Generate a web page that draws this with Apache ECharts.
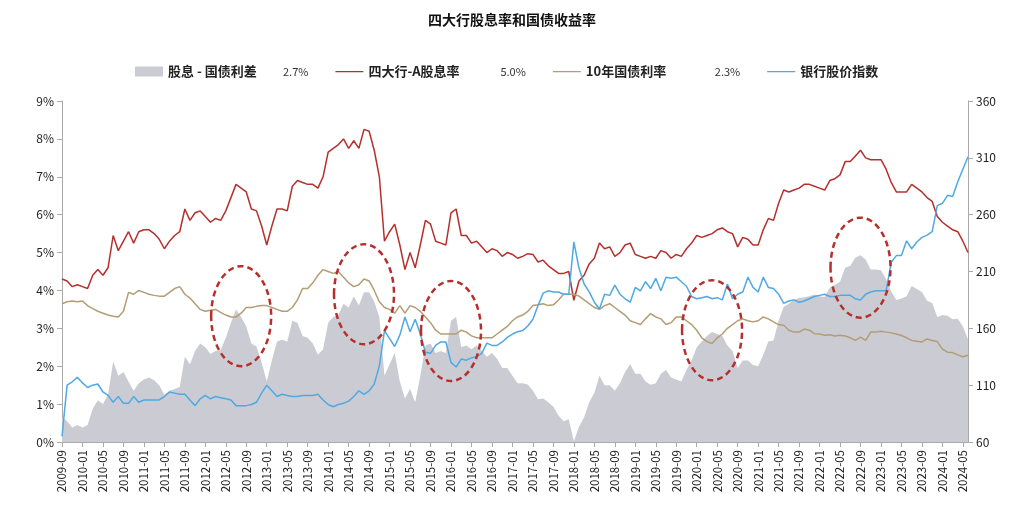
<!DOCTYPE html>
<html><head><meta charset="utf-8">
<script src="https://cdn.jsdelivr.net/npm/echarts@6/dist/echarts.min.js"></script>
<style>html,body{margin:0;padding:0;background:#fff}#c{width:1024px;height:511px}</style>
</head><body><div id="c"></div>
<script>
// monthly, 2009-09 .. 2024-06
const startYear = 2009, startMonth = 9, monthCount = 178;
const divYield = [4.30,4.25,4.10,4.15,
4.10,4.05,4.40,4.55,4.40,4.60,5.45,5.05,5.30,5.55,5.25,5.55,
5.60,5.60,5.50,5.35,5.10,5.30,5.45,5.55,6.15,5.85,6.05,6.10,
5.95,5.80,5.90,5.85,6.10,6.45,6.80,6.70,6.60,6.15,6.10,5.70,
5.20,5.70,6.15,6.15,6.10,6.75,6.90,6.85,6.80,6.80,6.70,7.00,
7.65,7.75,7.85,8.00,7.75,7.95,7.75,8.25,8.20,7.70,7.00,5.30,
5.55,5.75,5.20,4.55,5.00,4.60,5.20,5.85,5.75,5.30,5.25,5.20,
6.05,6.15,5.45,5.45,5.25,5.30,5.15,5.00,5.10,5.05,4.90,5.00,
4.95,4.85,4.90,4.97,4.95,4.75,4.80,4.65,4.55,4.45,4.45,4.50,
3.74,4.25,4.40,4.70,4.85,5.25,5.10,5.15,4.90,5.00,5.20,5.25,
4.95,4.90,4.85,4.90,4.85,5.05,5.00,4.85,4.95,4.90,5.10,5.25,
5.45,5.40,5.45,5.50,5.60,5.65,5.55,5.50,5.15,5.40,5.35,5.20,
5.20,5.60,5.90,5.85,6.30,6.65,6.60,6.65,6.70,6.80,6.80,6.75,
6.70,6.65,6.90,6.95,7.05,7.40,7.40,7.55,7.70,7.50,7.45,7.45,
7.45,7.20,6.85,6.60,6.60,6.60,6.80,6.70,6.60,6.45,6.35,5.95,
5.80,5.70,5.60,5.55,5.30,5.00];
const bondYield = [3.65,3.70,3.72,3.70,
3.72,3.60,3.52,3.45,3.40,3.35,3.32,3.30,3.45,3.95,3.90,4.00,
3.95,3.90,3.87,3.85,3.85,3.95,4.05,4.10,3.90,3.80,3.65,3.50,
3.45,3.48,3.50,3.42,3.35,3.30,3.30,3.40,3.55,3.55,3.58,3.60,
3.60,3.55,3.50,3.45,3.45,3.55,3.75,4.05,4.05,4.20,4.40,4.55,
4.50,4.45,4.50,4.35,4.20,4.10,4.15,4.30,4.25,4.00,3.70,3.55,
3.50,3.40,3.60,3.40,3.60,3.55,3.45,3.30,3.15,2.95,2.85,2.85,
2.85,2.85,2.95,2.90,2.80,2.75,2.75,2.75,2.75,2.85,2.95,3.05,
3.20,3.30,3.35,3.45,3.60,3.62,3.65,3.60,3.62,3.75,3.90,3.90,
3.90,3.85,3.75,3.65,3.55,3.50,3.60,3.65,3.55,3.45,3.35,3.20,
3.15,3.10,3.25,3.39,3.30,3.25,3.10,3.15,3.30,3.30,3.20,3.10,
2.95,2.75,2.65,2.60,2.75,2.85,3.00,3.10,3.20,3.25,3.20,3.17,
3.20,3.30,3.25,3.17,3.10,3.08,2.95,2.90,2.90,2.98,2.95,2.86,
2.85,2.82,2.83,2.80,2.82,2.80,2.75,2.68,2.77,2.68,2.90,2.90,
2.92,2.90,2.88,2.85,2.81,2.75,2.68,2.66,2.64,2.72,2.68,2.65,
2.45,2.37,2.36,2.30,2.25,2.29];
const spread = [0.65,0.55,0.38,0.45,
0.38,0.45,0.88,1.10,1.00,1.25,2.13,1.75,1.85,1.60,1.35,1.55,
1.65,1.70,1.63,1.50,1.25,1.35,1.40,1.45,2.25,2.05,2.40,2.60,
2.50,2.32,2.40,2.43,2.75,3.15,3.50,3.30,3.05,2.60,2.52,2.10,
1.60,2.15,2.65,2.70,2.65,3.20,3.15,2.80,2.75,2.60,2.30,2.45,
3.15,3.30,3.35,3.65,3.55,3.85,3.60,3.95,3.95,3.70,3.30,1.75,
2.05,2.35,1.60,1.15,1.40,1.05,1.75,2.55,2.60,2.35,2.40,2.35,
3.20,3.30,2.50,2.55,2.45,2.55,2.40,2.25,2.35,2.20,1.95,1.95,
1.75,1.55,1.55,1.52,1.35,1.13,1.15,1.05,0.93,0.70,0.55,0.60,
0.02,0.40,0.65,1.05,1.30,1.75,1.50,1.50,1.35,1.55,1.85,2.05,
1.80,1.80,1.60,1.51,1.55,1.80,1.90,1.70,1.65,1.60,1.90,2.15,
2.50,2.65,2.80,2.90,2.85,2.80,2.55,2.40,1.95,2.15,2.15,2.03,
2.00,2.30,2.65,2.68,3.20,3.57,3.65,3.75,3.80,3.82,3.85,3.89,
3.85,3.83,4.07,4.15,4.23,4.60,4.65,4.87,4.93,4.82,4.55,4.55,
4.53,4.30,3.97,3.75,3.79,3.85,4.12,4.04,3.96,3.73,3.67,3.30,
3.35,3.33,3.24,3.25,3.05,2.71];
const bankIndex = [65,110,113,117,
112,108,110,111,104,101,95,100,94,94,100,95,
97,97,97,97,100,104,103,102,102,97,92,98,
101,98,100,99,98,97,92,92,92,93,95,103,
110,105,100,102,101,100,100,101,101,101,102,97,
93,91,93,94,96,100,105,102,105,111,127,158,
151,144,154,170,157,168,155,139,138,145,148,148,
130,126,133,132,134,135,138,147,145,145,148,152,
155,157,158,162,168,180,191,193,192,192,190,190,
236,213,199,192,183,177,190,189,198,190,186,183,
196,193,201,195,204,193,205,204,205,201,197,188,
186,187,188,186,187,185,199,186,190,192,205,196,
192,205,196,195,190,182,184,185,183,184,186,188,
189,190,188,188,189,189,189,186,185,190,192,193,
193,193,218,224,224,237,230,236,240,242,245,268,
270,277,276,289,300,311];
const seriesNames = ['股息 - 国债利差','四大行-A股息率','10年国债利率','银行股价指数'];
const legendValues = ['2.7%','5.0%','2.3%',''];
// annotation ellipses: [category index, percent value]
const circles = [[34.8,3.32],[58.9,3.9],[75.8,2.93],[126.9,2.95],[156,4.6]];

const categories = [];
for (let i = 0; i < monthCount; i++) {
  const m = startMonth - 1 + i;
  const y = startYear + Math.floor(m / 12);
  const mm = (m % 12) + 1;
  categories.push(y + '-' + (mm < 10 ? '0' : '') + mm);
}
const lineIcon = 'path://M0,0h0.1v0.1h-0.1zM0,4.4h28v1.3h-28zM0,9.9h0.1v0.1h-0.1z';
const nameW = [115,132,129,90];
const rich = {};
seriesNames.forEach((n,i)=>{ rich['n'+i] = {width:nameW[i], fontSize:13, fontWeight:'bold', color:'#222'}; });
rich.v = {fontSize:11, color:'#333'};

const chart = echarts.init(document.getElementById('c'));
const axisLine = {show:true, lineStyle:{color:'#aaa'}};
chart.setOption({
  animation:false,
  textStyle:{fontFamily:'"Noto Sans CJK SC", "Liberation Sans", sans-serif'},
  title:{text:'四大行股息率和国债收益率', left:'center', top:8, textStyle:{fontSize:14, fontWeight:'bold', color:'#111'}},
  legend:{
    top:60, left:130, itemGap:27, itemWidth:28, itemHeight:10,
    data:[
      {name:seriesNames[0], icon:'rect'},
      {name:seriesNames[1], icon:lineIcon},
      {name:seriesNames[2], icon:lineIcon},
      {name:seriesNames[3], icon:lineIcon}
    ],
    formatter:(name)=>{ const i = seriesNames.indexOf(name); return '{n'+i+'|'+name+'}' + (legendValues[i] ? '{v|'+legendValues[i]+'}' : ''); },
    textStyle:{rich:rich}
  },
  grid:{left:62, right:56, top:101, bottom:69},
  xAxis:{type:'category', data:categories, boundaryGap:false,
    axisLine:axisLine, axisTick:{show:true, interval:3, lineStyle:{color:'#aaa'}},
    axisLabel:{interval:3, rotate:90, fontSize:11.5, color:'#222'}},
  yAxis:[
    {type:'value', min:0, max:9, interval:1, splitLine:{show:false}, axisLine:axisLine, axisTick:{show:true, lineStyle:{color:'#aaa'}},
     axisLabel:{formatter:'{value}%', fontSize:12, color:'#222'}},
    {type:'value', min:60, max:360, interval:50, splitLine:{show:false}, axisLine:axisLine, axisTick:{show:true, lineStyle:{color:'#aaa'}},
     axisLabel:{fontSize:12, color:'#222'}}
  ],
  series:[
    {name:seriesNames[0], type:'line', data:spread, symbol:'none', lineStyle:{width:0}, itemStyle:{color:'#cbccd3'}, areaStyle:{color:'#cbccd3', opacity:1}, z:1},
    {name:seriesNames[1], type:'line', data:divYield, symbol:'none', lineStyle:{width:1.5, color:'#b5302c'}, itemStyle:{color:'#b5302c'}, z:3},
    {name:seriesNames[2], type:'line', data:bondYield, symbol:'none', lineStyle:{width:1.5, color:'#b39d74'}, itemStyle:{color:'#b39d74'}, z:3},
    {name:seriesNames[3], type:'line', yAxisIndex:1, data:bankIndex, symbol:'none', lineStyle:{width:1.5, color:'#4fa9e2'}, itemStyle:{color:'#4fa9e2'}, z:4}
  ]
});
const graphics = circles.map(c=>{
  const p = chart.convertToPixel({xAxisIndex:0, yAxisIndex:0}, [c[0], c[1]]);
  return {type:'ellipse', shape:{cx:p[0], cy:p[1], rx:30, ry:50}, z:10,
    style:{fill:'none', stroke:'#b5302c', lineWidth:2.5, lineDash:[6,4]}};
});
chart.setOption({graphic:graphics});
</script></body></html>
